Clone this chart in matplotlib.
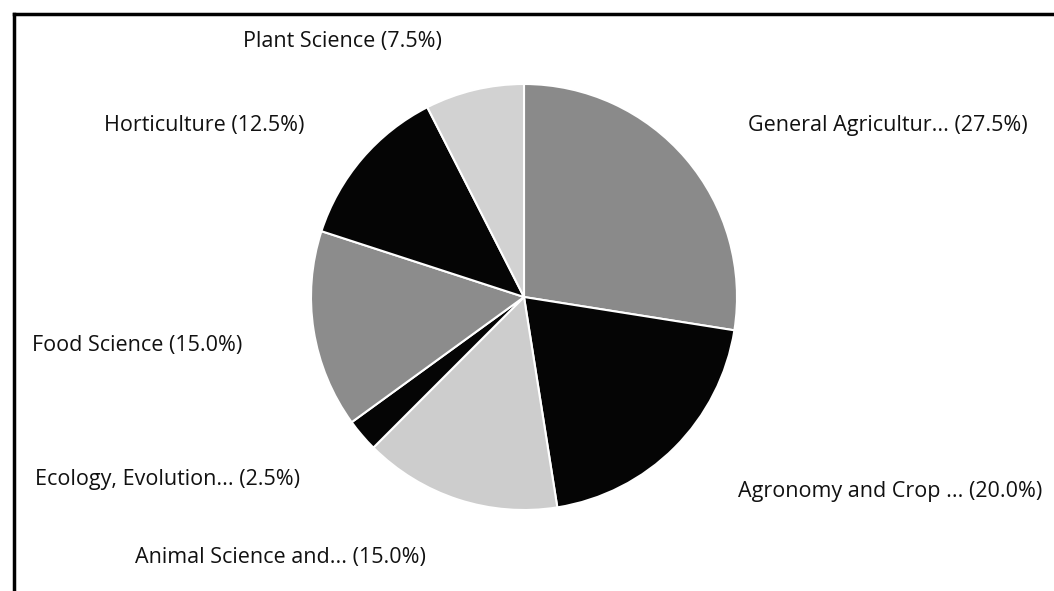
import matplotlib
matplotlib.use("Agg")
import matplotlib.pyplot as plt
from matplotlib.lines import Line2D

plt.rcParams['font.family'] = ['Open Sans', 'DejaVu Sans']

# slice data, clockwise from 12 o'clock
labels = ['General Agricultur...', 'Agronomy and Crop ...', 'Animal Science and...',
          'Ecology, Evolution...', 'Food Science', 'Horticulture', 'Plant Science']
shares = [27.5, 20.0, 15.0, 2.5, 15.0, 12.5, 7.5]
colors = ['#8a8a8a', '#050505', '#cdcdcd', '#050505', '#8c8c8c', '#050505', '#d2d2d2']

# label anchor (left edge x, centre y) in pixels from top-left
label_pos = [(748, 125), (738, 492), (135, 557), (35, 480), (32, 345), (104, 125), (243, 42)]

W, H = 1054, 591
fig = plt.figure(figsize=(W / 100, H / 100), dpi=100)
fig.patch.set_facecolor('white')

cx, cy, r = 524, 297, 213
ax = fig.add_axes([(cx - r) / W, (H - cy - r) / H, 2 * r / W, 2 * r / H])
ax.pie(shares, colors=colors, startangle=90, counterclock=False,
       wedgeprops=dict(edgecolor='white', linewidth=1.5))
ax.set_xlim(-1, 1)
ax.set_ylim(-1, 1)
ax.set_aspect('equal')
ax.axis('off')

for name, val, (px, py) in zip(labels, shares, label_pos):
    fig.text(px / W, 1 - py / H, f'{name} ({val:.1f}%)', ha='left', va='center',
             fontsize=15.5, color='#111111')

# frame: only top and left edges show in the scan
fig.add_artist(Line2D([14 / W, 1], [1 - 14 / H, 1 - 14 / H], color='black', lw=2.5,
                      transform=fig.transFigure))
fig.add_artist(Line2D([14 / W, 14 / W], [0, 1 - 14 / H], color='black', lw=2.5,
                      transform=fig.transFigure))

fig.savefig('out.png', dpi=100)
